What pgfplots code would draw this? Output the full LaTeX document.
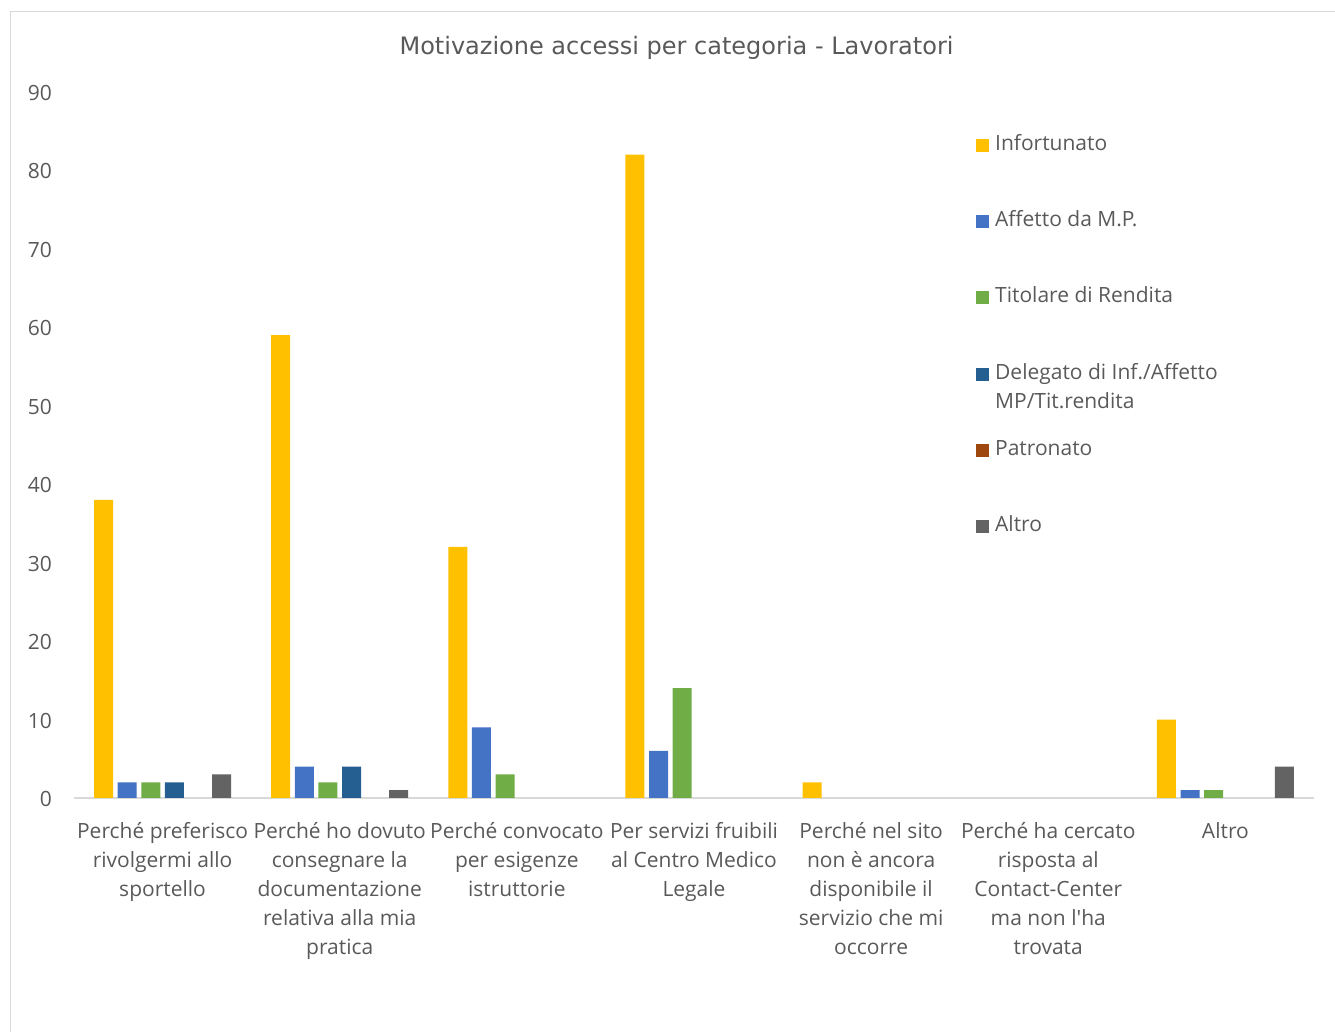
\documentclass[border=0pt]{standalone}
\usepackage{pgfplots}
\pgfplotsset{compat=1.18}
\usepackage{fontspec}
\setmainfont{Open Sans}[Ligatures=TeXOff]
\newfontfamily\titlefont{DejaVu Sans}
\definecolor{cInf}{HTML}{FFC000}
\definecolor{cAff}{HTML}{4472C4}
\definecolor{cTit}{HTML}{70AD47}
\definecolor{cDel}{HTML}{255E91}
\definecolor{cPat}{HTML}{9E480E}
\definecolor{cAlt}{HTML}{636363}
\definecolor{txt}{HTML}{595959}
\definecolor{grid}{HTML}{D9D9D9}
\begin{document}
\begin{tikzpicture}
\useasboundingbox (0,0) rectangle (1335pt,1032pt);
\draw[grid, line width=1pt] (10.5pt,-10pt) -- (10.5pt,1020.5pt) -- (1345pt,1020.5pt);
\node[text=txt, font=\titlefont\fontsize{24}{28}\selectfont] at (676.5pt,984.5pt) {Motivazione accessi per categoria - Lavoratori};
\begin{axis}[
  at={(74pt,234pt)}, anchor=south west,
  scale only axis, width=1240pt, height=706pt,
  xmin=-0.5, xmax=6.5, ymin=0, ymax=90,
  enlargelimits=false,
  axis x line=bottom, axis y line=left,
  x axis line style={draw=grid, line width=1.5pt, -},
  y axis line style={draw=none},
  xtick={0,...,6}, ytick={0,10,...,90},
  major tick length=0pt,
  tick style={draw=none},
  ybar=4.6pt, bar width=19pt,
  every axis plot/.append style={draw=none},
  font=\fontsize{21}{29}\selectfont,
  tick label style={text=txt, font=\fontsize{21}{29}\selectfont},
  yticklabel style={anchor=east, inner sep=0pt, xshift=-22pt, yshift=-1pt},
  /pgf/number format/assume math mode=true,
  xticklabel style={anchor=north, align=center, inner sep=0pt, yshift=-24pt},
  xticklabels={
    {Perché preferisco\\rivolgermi allo\\sportello},
    {Perché ho dovuto\\consegnare la\\documentazione\\relativa alla mia\\pratica},
    {Perché convocato\\per esigenze\\istruttorie},
    {Per servizi fruibili\\al Centro Medico\\Legale},
    {Perché nel sito\\non è ancora\\disponibile il\\servizio che mi\\occorre},
    {Perché ha cercato\\risposta al\\Contact-Center\\ma non l'ha\\trovata},
    {Altro}},
  legend image code/.code={\fill[#1] (0pt,-6.5pt) rectangle (13pt,6.5pt);},
  legend cell align=left,
  legend style={draw=none, fill=none, at={(0.7274,0.9388)}, anchor=north west,
    inner sep=0pt, row sep=56.2pt, column sep=6pt,
    font=\fontsize{21}{29}\selectfont, text=txt,
    nodes={inner sep=0pt, text height=15pt, text depth=5pt}},
]
% zero values are not drawn (as in the reference)
\addplot[fill=cInf] coordinates {(0,38) (1,59) (2,32) (3,82) (4,2) (6,10)};
\addplot[fill=cAff] coordinates {(0,2) (1,4) (2,9) (3,6) (6,1)};
\addplot[fill=cTit] coordinates {(0,2) (1,2) (2,3) (3,14) (6,1)};
\addplot[fill=cDel] coordinates {(0,2) (1,4)};
\addplot[fill=none, legend image code/.code={\fill[cPat] (0pt,-6.5pt) rectangle (13pt,6.5pt);}]
  coordinates {(0,0) (1,0) (2,0) (3,0) (4,0) (5,0) (6,0)};
\addplot[fill=cAlt] coordinates {(0,3) (1,1) (6,4)};
\legend{Infortunato, Affetto da M.P., Titolare di Rendita,
  {\smash{\begin{tabular}[t]{@{}l@{}}Delegato di Inf./Affetto\\MP/Tit.rendita\end{tabular}}},
  Patronato, Altro}
\end{axis}
\end{tikzpicture}
\end{document}
